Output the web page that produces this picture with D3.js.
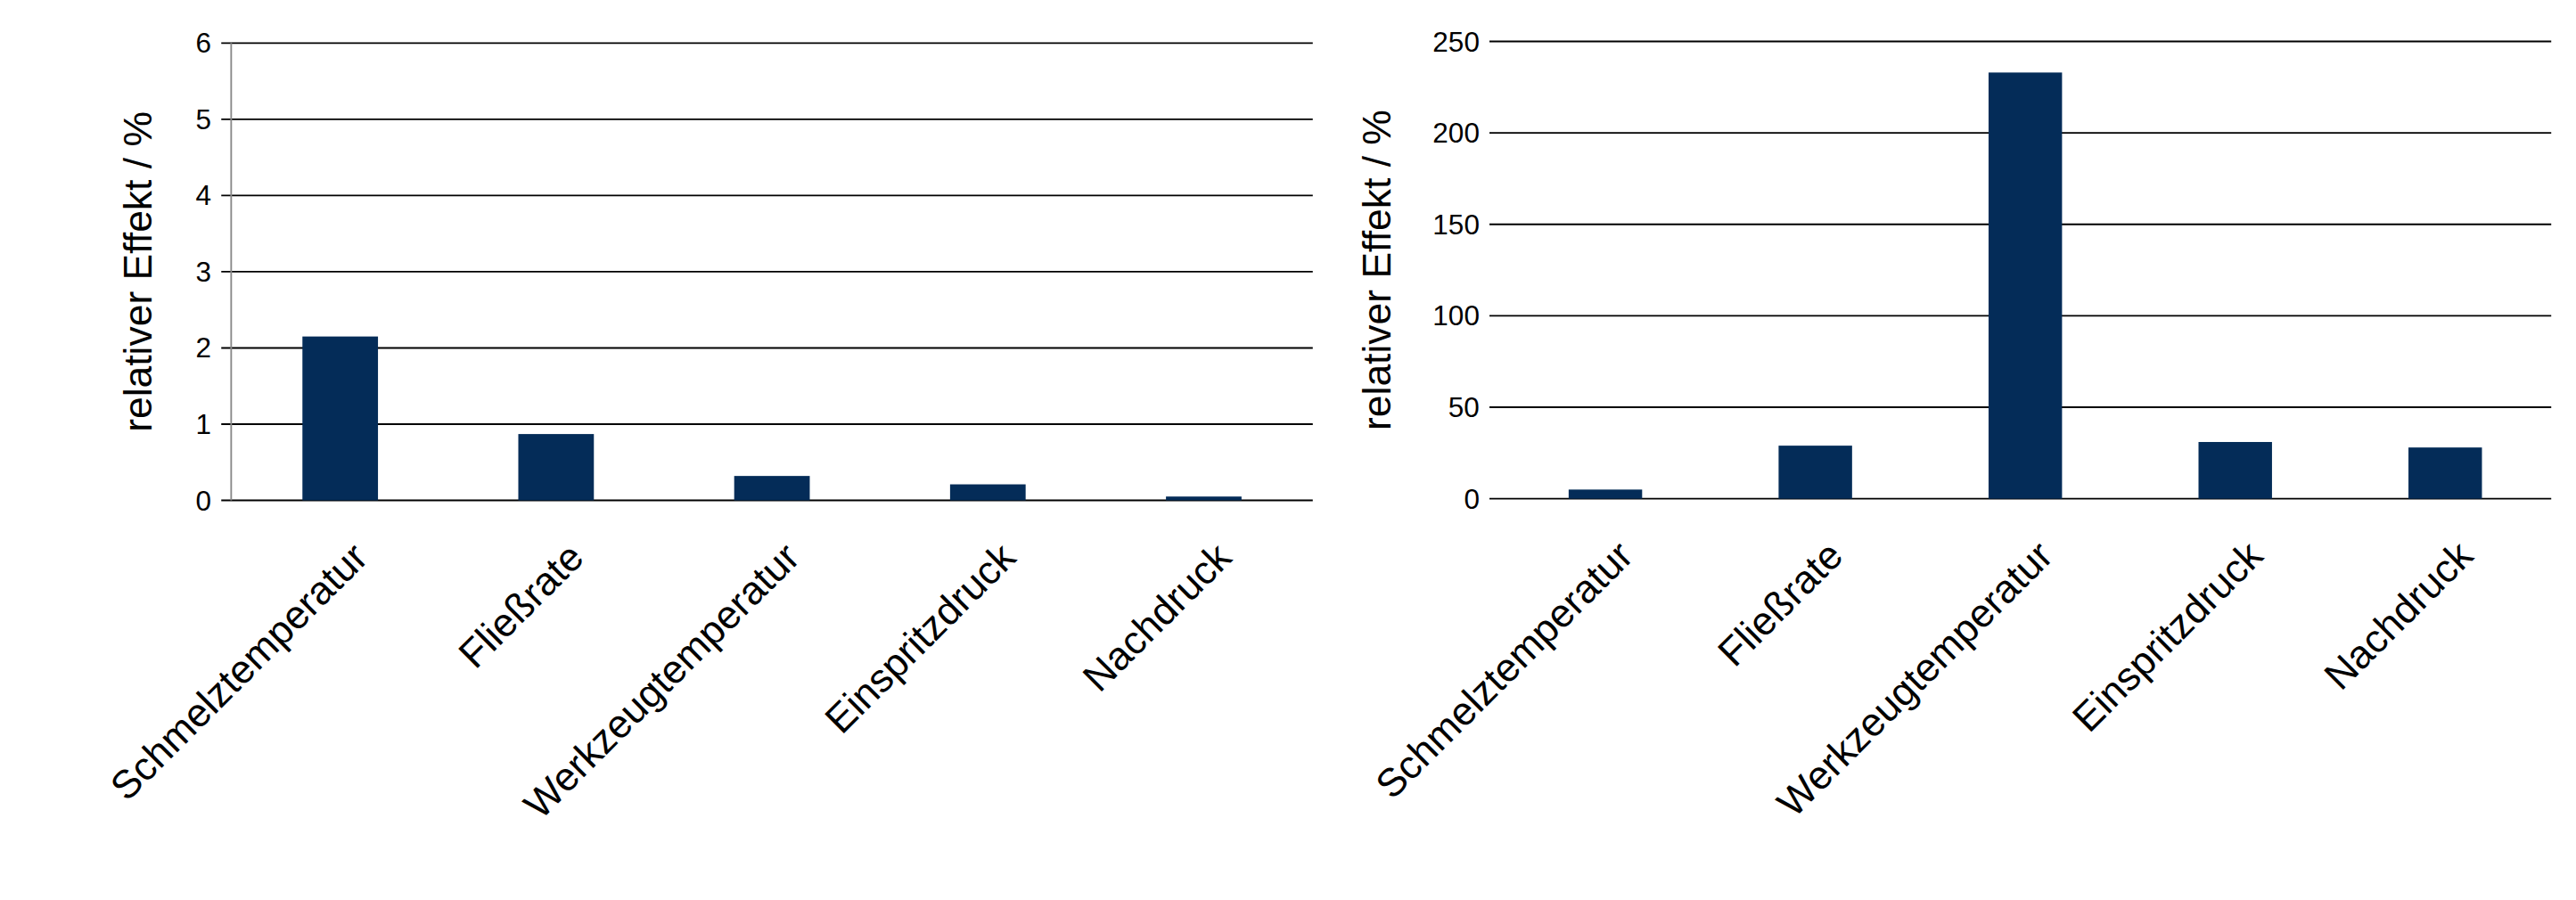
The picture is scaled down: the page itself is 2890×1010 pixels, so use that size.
<!DOCTYPE html>
<html><head><meta charset="utf-8">
<script src="https://cdn.jsdelivr.net/npm/d3@7"></script>
<style>body{margin:0;background:#fff}</style>
</head><body>
<script>
const categories = ["Schmelztemperatur", "Fließrate", "Werkzeugtemperatur", "Einspritzdruck", "Nachdruck"];
const valuesLeft = [2.15, 0.87, 0.32, 0.21, 0.05];
const valuesRight = [5, 29, 233, 31, 28];
const ticksLeft = [0, 1, 2, 3, 4, 5, 6];
const ticksRight = [0, 50, 100, 150, 200, 250];
const barColor = "#042c58";

const svg = d3.select("body").append("svg")
    .attr("width", 2890).attr("height", 1010)
    .attr("viewBox", "0 0 1560 545");

function drawChart(x0, x1, y0, y1, values, ticks, labelX, axisLine) {
    const g = svg.append("g");
    const x = d3.scaleBand().domain(categories).range([x0, x1]).paddingInner(0.65).paddingOuter(0.33);
    const y = d3.scaleLinear().domain([0, d3.max(ticks)]).range([y0, y1]);

    // gridlines
    g.selectAll(".grid").data(ticks).enter().append("line")
        .attr("x1", x0 - 6).attr("x2", x1)
        .attr("y1", d => y(d)).attr("y2", d => y(d))
        .attr("stroke", "#000").attr("stroke-width", 1);
    if (axisLine) {
        g.append("line").attr("x1", x0).attr("x2", x0).attr("y1", y1).attr("y2", y0)
            .attr("stroke", "#888").attr("stroke-width", 1);
    }
    g.selectAll(".tick").data(ticks).enter().append("text")
        .attr("x", x0 - 12).attr("y", d => y(d)).attr("dy", "0.35em")
        .attr("text-anchor", "end").attr("font-family", "Liberation Sans, Arial")
        .attr("font-size", 17).text(d => d);

    g.selectAll("rect").data(values).enter().append("rect")
        .attr("x", (d, i) => x(categories[i])).attr("width", x.bandwidth())
        .attr("y", d => y(d)).attr("height", d => y0 - y(d))
        .attr("fill", barColor);

    g.selectAll(".cat").data(categories).enter().append("text")
        .attr("transform", d => `translate(${x(d) + x.bandwidth() / 2 + 18},${y0 + 36}) rotate(-45)`)
        .attr("text-anchor", "end").attr("font-family", "Liberation Sans, Arial")
        .attr("font-size", 24).text(d => d);

    g.append("text")
        .attr("transform", `translate(${labelX},${(y0 + y1) / 2}) rotate(-90)`)
        .attr("text-anchor", "middle").attr("font-family", "Liberation Sans, Arial")
        .attr("font-size", 24).text("relativer Effekt / %");
}

drawChart(140, 795, 303, 26, valuesLeft, ticksLeft, 92, true);
drawChart(908, 1545, 302, 25, valuesRight, ticksRight, 842, false);
</script>
</body></html>
